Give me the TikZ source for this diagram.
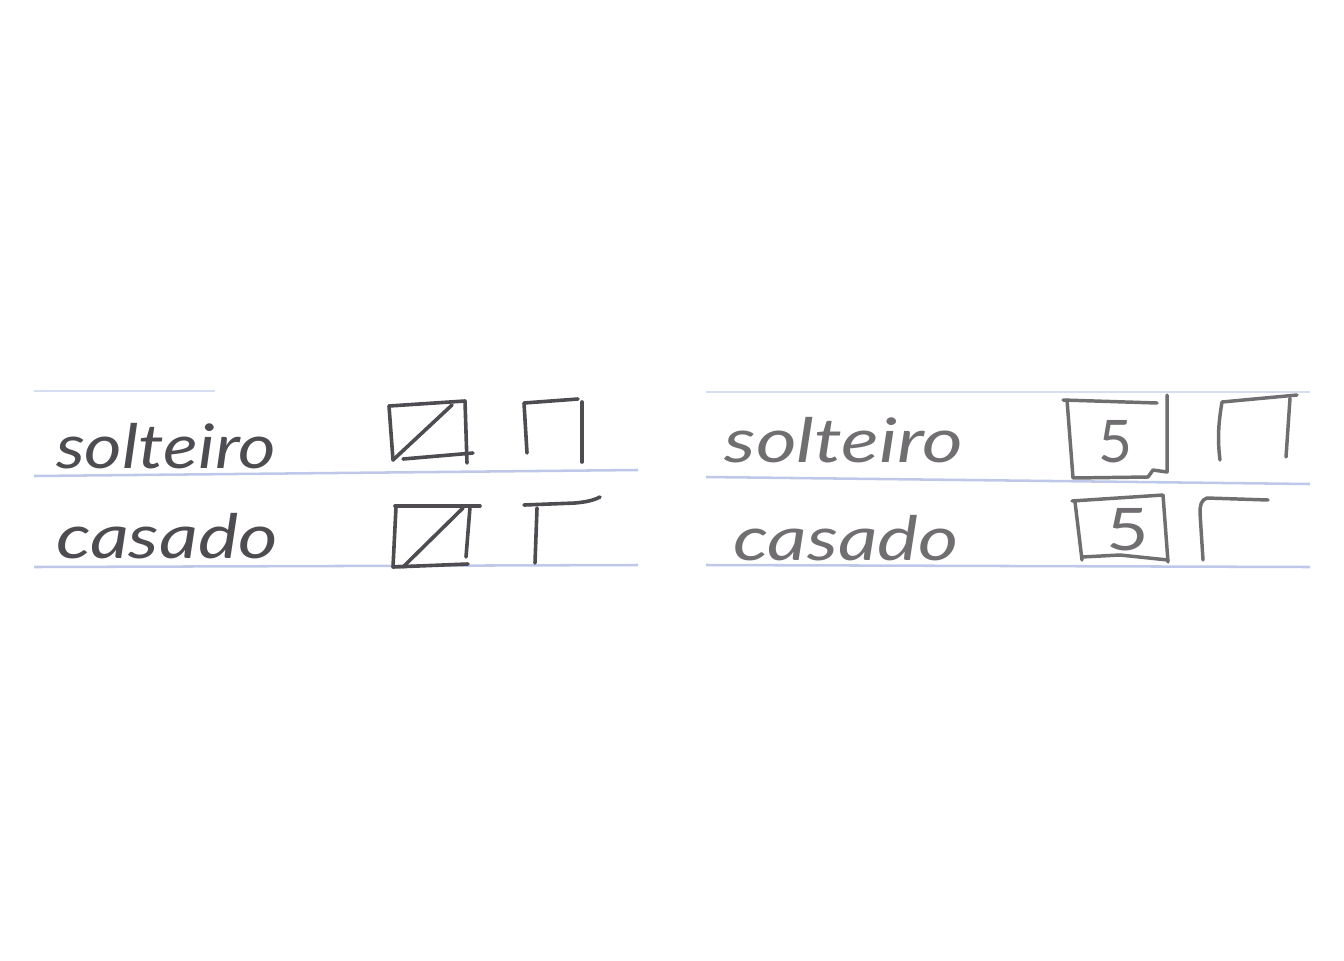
\documentclass[tikz,border=0pt]{standalone}
\usepackage{fontspec}
\setmainfont{Lato}
\begin{document}
\begin{tikzpicture}[x=0.75pt,y=-0.75pt,
  rule/.style={draw=rulecolor,line width=1.9pt},
  faint/.style={draw=rulecolor!60,line width=1.4pt},
  pen/.style={draw=pencolor,line width=2.7pt,line cap=round,line join=round},
  softpen/.style={draw=softcolor,line width=2.6pt,line cap=round,line join=round},
  word/.style={anchor=base,text=pencolor,inner sep=0pt,font=\fontsize{46}{46}\selectfont\itshape},
  softword/.style={word,text=softcolor},
  digit/.style={anchor=center,text=softcolor,inner sep=0pt,font=\fontsize{44}{44}\selectfont}]
\definecolor{rulecolor}{RGB}{190,200,232}
\definecolor{pencolor}{RGB}{78,76,80}
\definecolor{softcolor}{RGB}{112,110,112}
\useasboundingbox (0,0) rectangle (1344,960);
% ruled lines, left card
\draw[faint] (34,391) -- (215,391);
\draw[rule] (34,476) -- (638,470);
\draw[rule] (34,567) -- (638,565);
% ruled lines, right card
\draw[faint] (706,392) -- (1310,392);
\draw[rule] (706,477) -- (1310,484);
\draw[rule] (706,565) -- (1310,567);
% words
\node[word,xscale=1.18] (s1) at (166,468) {solteiro};
\node[word,xscale=1.24] (c1) at (167,558) {casado};
\node[softword,xscale=1.28] (s2) at (844,462) {solteiro};
\node[softword,xscale=1.26] (c2) at (846,560) {casado};
% left card, top box with diagonal
\draw[pen] (389,406) -- (465,401) -- (467,463);
\draw[pen] (389,406) -- (393,460);
\draw[pen] (403,459) -- (473,453);
\draw[pen] (393,460) -- (452,405);
% left card, top open box
\draw[pen] (527,453) -- (524,403) -- (578,399);
\draw[pen] (582,402) -- (582,462);
% left card, bottom box with diagonal
\draw[pen] (395,506) -- (480,506);
\draw[pen] (396,507) -- (393,567) -- (468,564);
\draw[pen] (470,507) -- (466,557);
\draw[pen] (403,567) -- (463,508);
% left card, bottom open box
\draw[pen] (524,505) -- (575,503) .. controls (585,502) and (592,501) .. (600,497);
\draw[pen] (537,508) -- (535,563);
% right card, top box with 5
\draw[softpen] (1063,400) -- (1157,403);
\draw[softpen] (1067,400) -- (1073,478) -- (1148,477) -- (1153,470) -- (1167,472) -- (1167,395);
\node[digit] (d1) at (1115,442) {5};
% right card, top open box
\draw[softpen] (1220,460) .. controls (1217,437) and (1219,420) .. (1222,402) -- (1297,395);
\draw[softpen] (1290,398) -- (1286,457);
% right card, bottom box with 5
\draw[softpen] (1072,501) -- (1163,495) -- (1168,562);
\draw[softpen] (1075,502) -- (1082,560);
\draw[softpen] (1082,557) -- (1120,555) -- (1168,560);
\node[digit,xscale=1.25] (d2) at (1128,530) {5};
% right card, bottom open box
\draw[softpen] (1203,560) -- (1200,513) .. controls (1200,505) and (1201,500) .. (1207,498) -- (1268,500);
\end{tikzpicture}
\end{document}
